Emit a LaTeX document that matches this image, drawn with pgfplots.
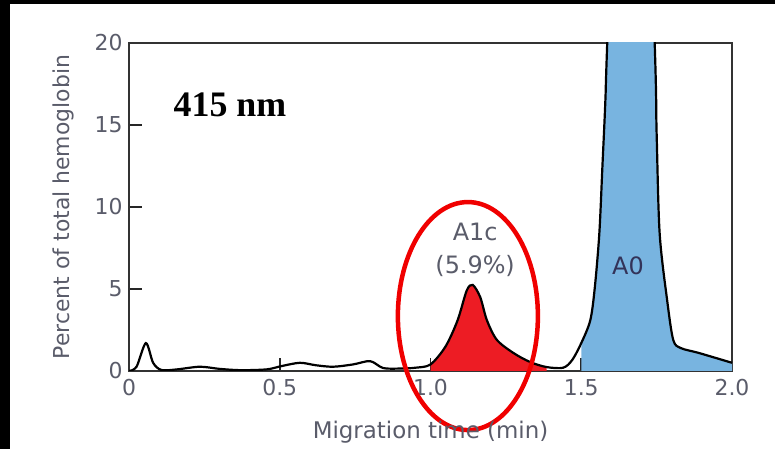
\documentclass[border=0pt]{standalone}
\usepackage{fontspec}
\setmainfont{DejaVu Sans}
\newfontfamily\timesbold{Liberation Serif}
\usepackage{pgfplots}
\usepackage{pgfplotstable}
\pgfplotsset{compat=1.18}
\definecolor{txtgray}{HTML}{5A5C6A}
\definecolor{a1cred}{HTML}{ED1C24}
\definecolor{a0blue}{HTML}{78B4E0}
\definecolor{ringred}{HTML}{F00000}

% electropherogram trace
\pgfplotstableread{
x y
0 0
0.025 0.26
0.056 1.7
0.08 0.5
0.108 0.06
0.16 0.1
0.235 0.26
0.30 0.13
0.37 0.05
0.457 0.1
0.506 0.3
0.567 0.5
0.62 0.35
0.677 0.26
0.743 0.4
0.80 0.6
0.843 0.18
0.90 0.15
0.95 0.2
1.00 0.4
1.05 1.5
1.09 3.1
1.12 4.9
1.14 5.25
1.165 4.5
1.187 3.1
1.22 1.9
1.275 1.1
1.33 0.55
1.385 0.24
1.44 0.2
1.47 0.67
1.50 1.7
1.53 3.1
1.545 5.1
1.56 8.4
1.57 12.4
1.58 16.5
1.59 22
1.665 60
1.74 22
1.75 14.5
1.76 8.4
1.785 4.3
1.805 1.9
1.83 1.4
1.89 1.1
2.0 0.5
}\trace

\begin{document}
\begin{tikzpicture}
\useasboundingbox (0bp,0bp) rectangle (775bp,449bp);
\fill[white] (0bp,0bp) rectangle (775bp,449bp);
\fill[black] (0bp,0bp) rectangle (10bp,449bp);
\fill[black] (0bp,445bp) rectangle (775bp,449bp);
\begin{axis}[
  at={(129bp,78bp)}, anchor=south west,
  scale only axis, width=603bp, height=328bp,
  xmin=0, xmax=2, ymin=0, ymax=20,
  xtick={0,0.5,1,1.5,2}, xticklabels={0,0.5,1.0,1.5,2.0},
  ytick={0,5,10,15,20}, yticklabels={0,5,10,15,20},
  xtick pos=bottom, ytick pos=left,
  tick align=inside,
  major tick length=13bp,
  axis line style={draw=black!80, line width=1.6bp},
  tick style={black!85, line width=1.6bp},
  tick label style={font=\fontsize{22}{22}\selectfont, text=txtgray},
  xticklabel style={yshift=-5bp},
  yticklabel style={xshift=-3bp},
  /pgf/number format/assume math mode=true,
  xlabel={Migration time (min)},
  ylabel={Percent of total hemoglobin},
  xlabel style={font=\fontsize{23}{23}\selectfont, text=txtgray, at={(axis description cs:0.5,-0.186)}, anchor=center},
  ylabel style={font=\fontsize{22}{22}\selectfont, text=txtgray, at={(axis description cs:-0.1095,0.5)}, anchor=center},
  clip mode=individual,
]
\addplot[draw=none, fill=a1cred, smooth, tension=0.5, restrict x to domain=1.0:1.385] table {\trace} \closedcycle;
\addplot[draw=none, fill=a0blue, smooth, tension=0.5, restrict x to domain=1.5:2.0] table {\trace} \closedcycle;
\addplot[black, line width=2.2bp, smooth, tension=0.5] table {\trace};

\node[font=\timesbold\bfseries\fontsize{36}{36}\selectfont] at (axis cs:0.335,16.2) {415 nm};
\node[font=\fontsize{24}{24}\selectfont, text=txtgray] at (axis cs:1.148,8.48) {A1c};
\node[font=\fontsize{24}{24}\selectfont, text=txtgray] at (axis cs:1.148,6.4) {(5.9\%)};
\node[font=\fontsize{24}{24}\selectfont, text=black!75!blue!60!gray] at (axis cs:1.655,6.4) {A0};
\draw[ringred, line width=4.5bp] (axis cs:1.124,3.35) ellipse [x radius=70bp, y radius=114bp];
\end{axis}
\end{tikzpicture}
\end{document}
